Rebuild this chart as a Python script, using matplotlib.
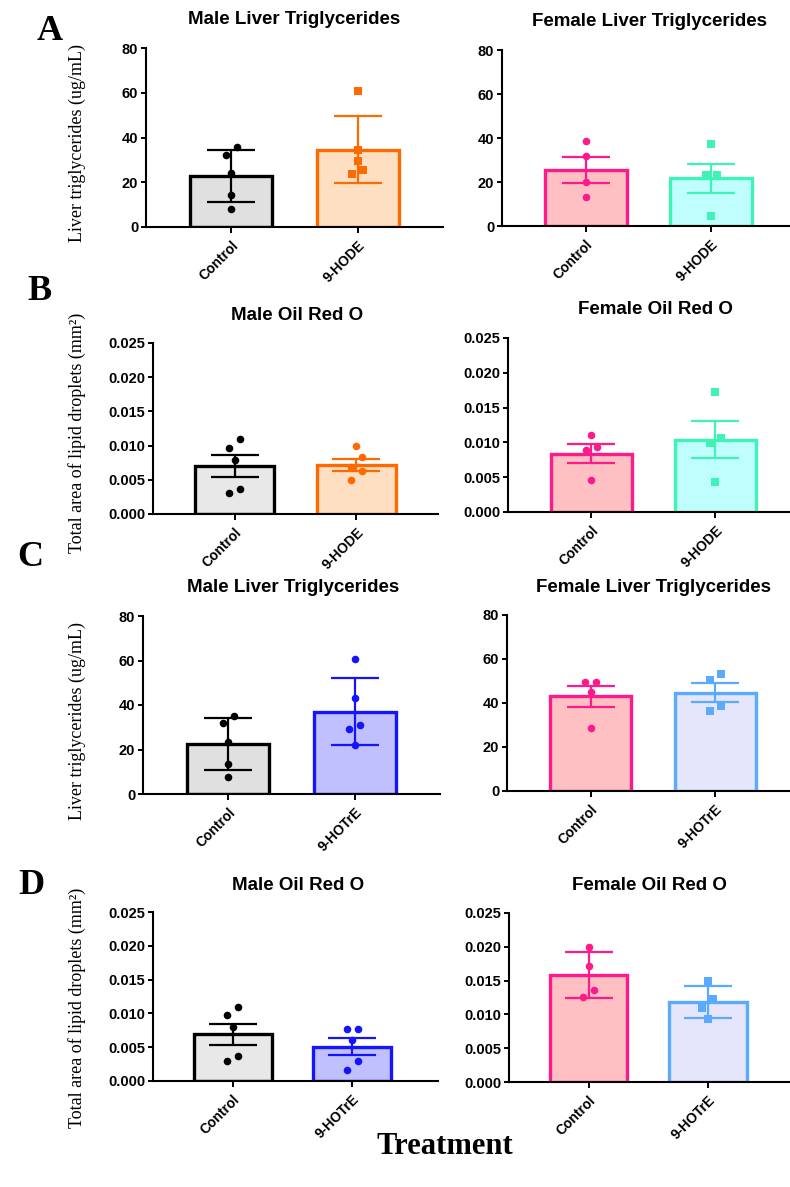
import matplotlib
matplotlib.use('Agg')
import matplotlib.pyplot as plt
from matplotlib.ticker import FormatStrFormatter
import numpy as np

W, H = 790, 1187

groups_hode = ['Control', '9-HODE']
groups_hotre = ['Control', '9-HOTrE']

# A: liver triglycerides, 9-HODE
a_male_ctrl = [35.8, 32.4, 24.2, 14.2, 8.2]
a_male_trt = [60.7, 34.2, 29.6, 25.5, 23.6]
a_male_mean = [22.8, 34.5]
a_male_err = [11.7, 15.0]
a_fem_ctrl = [38.7, 31.7, 20.0, 13.2]
a_fem_trt = [37.5, 23.1, 23.1, 4.4]
a_fem_mean = [25.6, 21.6]
a_fem_err = [5.85, 6.8]

# B: oil red O, 9-HODE
b_male_ctrl = [0.0109, 0.0096, 0.0079, 0.0036, 0.0030]
b_male_trt = [0.0100, 0.0083, 0.0069, 0.0063, 0.0050]
b_male_mean = [0.0070, 0.0072]
b_male_err = [0.0016, 0.00085]
b_fem_ctrl = [0.0110, 0.0093, 0.0089, 0.0046]
b_fem_trt = [0.0173, 0.0107, 0.0099, 0.0043]
b_fem_mean = [0.0084, 0.0104]
b_fem_err = [0.00135, 0.0027]

# C: liver triglycerides, 9-HOTrE
c_male_ctrl = [35.2, 31.8, 23.5, 13.6, 7.5]
c_male_trt = [60.7, 43.0, 30.9, 29.4, 22.0]
c_male_mean = [22.3, 37.0]
c_male_err = [11.7, 15.1]
c_fem_ctrl = [49.5, 49.5, 44.8, 28.7]
c_fem_trt = [53.4, 50.5, 38.6, 36.4]
c_fem_mean = [43.0, 44.6]
c_fem_err = [4.9, 4.3]

# D: oil red O, 9-HOTrE
d_male_ctrl = [0.01095, 0.0097, 0.0080, 0.00365, 0.0029]
d_male_trt = [0.0077, 0.0077, 0.0060, 0.0030, 0.0017]
d_male_mean = [0.0069, 0.0051]
d_male_err = [0.0016, 0.0012]
d_fem_ctrl = [0.0199, 0.0172, 0.0136, 0.0126]
d_fem_trt = [0.0149, 0.0123, 0.0110, 0.0093]
d_fem_mean = [0.0158, 0.0118]
d_fem_err = [0.0034, 0.0024]

BLACK = ('black', '#e0e0e0')
ORANGE = ('#ff6a00', '#ffdfc2')
PINK = ('#ff1a8c', '#ffc0c4')
AQUA = ('#3ff2b6', '#c0fdfd')
BLUE = ('#1414ff', '#c0c0ff')
LBLUE = ('#5aaaff', '#e5e5fb')

SANS = 'Liberation Sans'
SERIF = 'Liberation Serif'

fig = plt.figure(figsize=(W / 100, H / 100), dpi=100)


def swarm(vals, py, px, dist=10, step=11):
    vals = np.asarray(vals, dtype=float)
    offs = np.zeros(len(vals))
    rows = []
    for i in np.argsort(vals, kind='stable'):
        if rows and (vals[i] - vals[rows[-1][0]]) * py < dist:
            rows[-1].append(i)
        else:
            rows.append([i])
    for row in rows:
        n = len(row)
        for k, i in enumerate(row):
            offs[i] = (k - (n - 1) / 2) * step / px
    return offs


def panel(box, groups, pts, means, errs, styles, markers, ymax, yticks, fmt,
          title, tx, ty, xr=1.67):
    l, t, r, b = box
    ax = fig.add_axes([l / W, 1 - b / H, (r - l) / W, (b - t) / H])
    xl = -0.67
    ax.set_xlim(xl, xr)
    ax.set_ylim(0, ymax)
    px = (r - l) / (xr - xl)
    py = (b - t) / ymax
    x = np.arange(len(groups))
    for i in range(len(groups)):
        edge, fill = styles[i]
        ax.bar(x[i], means[i], width=0.65, color=fill, edgecolor=edge,
               linewidth=2.4, zorder=2)
        ax.errorbar(x[i], means[i], yerr=errs[i], color=edge, capsize=17,
                    elinewidth=1.6, capthick=1.6, zorder=3)
        offs = swarm(pts[i], py, px)
        ax.scatter(x[i] + offs, pts[i], s=30, marker=markers[i], color=edge,
                   linewidths=0, zorder=4, clip_on=False)
    for s in ['top', 'right']:
        ax.spines[s].set_visible(False)
    for s in ['left', 'bottom']:
        ax.spines[s].set_linewidth(1.5)
    ax.set_yticks(yticks)
    ax.yaxis.set_major_formatter(FormatStrFormatter(fmt))
    ax.set_xticks(x)
    ax.set_xticklabels(groups, rotation=45, ha='right', rotation_mode='anchor',
                       fontsize=10, fontweight='bold', family=SANS)
    for lab in ax.get_yticklabels():
        lab.set_fontweight('bold')
        lab.set_family(SANS)
        lab.set_fontsize(10.5)
    ax.tick_params(axis='y', length=3.5, width=1.4, pad=2)
    ax.tick_params(axis='x', length=4, width=1.4, pad=4)
    fig.text(tx / W, 1 - ty / H, title, ha='center', va='center',
             fontsize=13.5, fontweight='bold', family=SANS)
    return ax


tg_ticks = [0, 20, 40, 60, 80]
oro_ticks = [0, 0.005, 0.010, 0.015, 0.020, 0.025]

panel((146, 48, 443, 227), groups_hode, [a_male_ctrl, a_male_trt], a_male_mean,
      a_male_err, [BLACK, ORANGE], ['o', 's'], 80, tg_ticks, '%d',
      'Male Liver Triglycerides', 294, 20)
panel((502, 50, 790, 226), groups_hode, [a_fem_ctrl, a_fem_trt], a_fem_mean,
      a_fem_err, [PINK, AQUA], ['o', 's'], 80, tg_ticks, '%d',
      'Female Liver Triglycerides', 649, 22, xr=1.63)

panel((153, 343, 438, 514), groups_hode, [b_male_ctrl, b_male_trt], b_male_mean,
      b_male_err, [(BLACK[0], '#e8e8e8'), ORANGE], ['o', 'o'], 0.025, oro_ticks,
      '%.3f', 'Male Oil Red O', 297, 315)
panel((508, 338, 790, 512), groups_hode, [b_fem_ctrl, b_fem_trt], b_fem_mean,
      b_fem_err, [PINK, AQUA], ['o', 's'], 0.025, oro_ticks, '%.3f',
      'Female Oil Red O', 655, 310, xr=1.6)

panel((143, 616, 440, 794), groups_hotre, [c_male_ctrl, c_male_trt], c_male_mean,
      c_male_err, [BLACK, BLUE], ['o', 'o'], 80, tg_ticks, '%d',
      'Male Liver Triglycerides', 293, 587)
panel((507, 615, 790, 791), groups_hotre, [c_fem_ctrl, c_fem_trt], c_fem_mean,
      c_fem_err, [PINK, LBLUE], ['o', 's'], 80, tg_ticks, '%d',
      'Female Liver Triglycerides', 654, 587, xr=1.6)

panel((153, 912, 438, 1081), groups_hotre, [d_male_ctrl, d_male_trt], d_male_mean,
      d_male_err, [(BLACK[0], '#e8e8e8'), BLUE], ['o', 'o'], 0.025, oro_ticks,
      '%.3f', 'Male Oil Red O', 298, 885, xr=1.72)
panel((509, 913, 790, 1082), groups_hotre, [d_fem_ctrl, d_fem_trt], d_fem_mean,
      d_fem_err, [PINK, LBLUE], ['o', 's'], 0.025, oro_ticks, '%.3f',
      'Female Oil Red O', 649, 886, xr=1.69)

# y labels
for label, yc in [('Liver triglycerides (ug/mL)', 143),
                  ('Total area of lipid droplets (mm²)', 433),
                  ('Liver triglycerides (ug/mL)', 721),
                  ('Total area of lipid droplets (mm²)', 1008)]:
    fig.text(77 / W, 1 - yc / H, label, rotation=90, ha='center', va='center',
             fontsize=13, family=SERIF)

# panel letters
for letter, lx, ly in [('A', 50, 31), ('B', 40, 292), ('C', 30, 558), ('D', 31, 885)]:
    fig.text(lx / W, 1 - ly / H, letter, ha='center', va='center',
             fontsize=26, fontweight='bold', family=SERIF)

fig.text(445 / W, 1 - 1147 / H, 'Treatment', ha='center', va='center',
         fontsize=22, fontweight='bold', family=SERIF)

fig.savefig('out.png', dpi=100)
